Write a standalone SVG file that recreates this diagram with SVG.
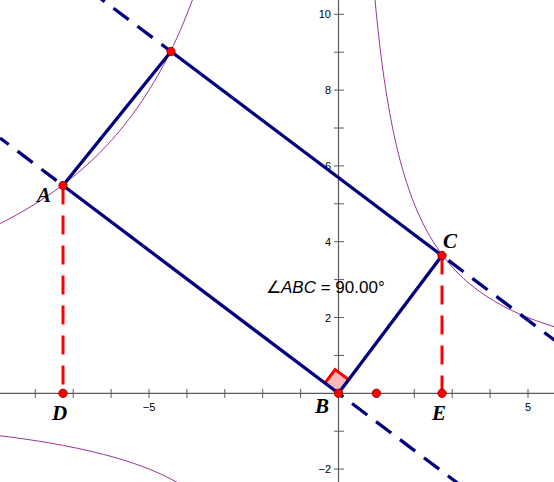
<svg xmlns="http://www.w3.org/2000/svg" width="554" height="482" viewBox="0 0 554 482">
<style>
.axis{stroke:#5a5a5a;stroke-width:1.2;fill:none}
.tick{stroke:#5a5a5a;stroke-width:1;fill:none}
.num{font-family:"Liberation Sans",Arial,sans-serif;font-size:11px;fill:#000}
.curve{stroke:#993399;stroke-width:1;fill:none}
.side{stroke:#000080;stroke-width:3.3;fill:none;stroke-linecap:round}
.dash{stroke:#000080;stroke-width:3.3;fill:none;stroke-dasharray:19 11}
.red{stroke:#ff0000;stroke-width:3;fill:none;stroke-dasharray:19 11}
.pt{fill:#ff0000;stroke:#800000;stroke-width:0.8}
.lbl{font-family:"Liberation Serif","Times New Roman",serif;font-size:21px;font-style:italic;font-weight:bold;fill:#000}
.meas{font-family:"Liberation Sans",Arial,sans-serif;font-size:17px;fill:#000}
</style>
<rect width="554" height="482" fill="#ffffff"/>
<g id="axes">
<path class="axis" d="M0,393.3H554M338.5,0V482"/>
<path class="tick" d="M35.3,389V398M73.2,389V398M111.1,389V398M149,389V398M186.9,389V398M224.8,389V398M262.7,389V398M300.6,389V398M376.4,389V398M414.3,389V398M452.2,389V398M490.1,389V398M528,389V398M334,469.1H344M334,431.2H344M334,355.4H344M334,317.5H344M334,279.6H344M334,241.7H344M334,203.8H344M334,165.9H344M334,128H344M334,90.1H344M334,52.2H344M334,14.3H344"/>
<g class="num" text-anchor="end">
<text x="331" y="18.3">10</text>
<text x="331" y="94.1">8</text>
<text x="331" y="169.9">6</text>
<text x="331" y="245.7">4</text>
<text x="331" y="321.5">2</text>
<text x="331" y="473.1">−2</text>
</g>
<g class="num" text-anchor="middle">
<text x="149" y="411">−5</text>
<text x="528" y="411">5</text>
</g>
</g>
<g id="curves" transform="matrix(37.9 0 0 -37.9 338.5 393.3)">
<path class="curve" vector-effect="non-scaling-stroke" d="M0.96,10.4167C1.09,9.0061 1.22,8.1207 1.35,7.4074C1.53333,6.4014 1.71667,5.771 1.9,5.2632C2.16667,4.5245 2.43333,4.0695 2.7,3.7037C3.1,3.155 3.5,2.8271 3.9,2.5641C4.5,2.1696 5.1,1.9391 5.7,1.7544"/>
<path class="curve" vector-effect="non-scaling-stroke" d="M-4.2,-2.38095C-4.86667,-2.00302 -5.53333,-1.78633 -6.2,-1.6129C-7.13333,-1.37009 -8.06667,-1.22634 -9,-1.11111"/>
<path class="curve" vector-effect="non-scaling-stroke" d="M-3.85,10.3896C-4.3,9.17523 -4.75,8.35799 -5.2,7.69231C-5.8,6.80474 -6.4,6.20409 -7,5.71429C-7.66667,5.17007 -8.33333,4.77366 -9,4.44444"/>
</g>
<g id="right-angle">
<path d="M338.5,393.3L324.9,383.1L335.1,369.5L348.7,379.7Z" fill="#f9b9b9"/>
<path d="M324.9,383.1L335.1,369.5L348.7,379.7" stroke="#ff0000" stroke-width="3" fill="none"/>
</g>
<g id="connectors">
<path class="dash" stroke-dashoffset="22" d="M63,185.5L0,137.98"/>
<path class="dash" stroke-dashoffset="13" d="M338.5,393.3L460,484.9"/>
<path class="dash" stroke-dashoffset="7" d="M171,51.5L100,-1.95"/>
<path class="dash" stroke-dashoffset="22" d="M442,255.5L560,344.3"/>
<path class="side" d="M63,185.5L338.5,393.3L442,255.5L171,51.5Z"/>
<path class="red" d="M63,185.5V393.3"/>
<path class="red" d="M442,255.5V393.3"/>
</g>
<g id="node-A"><circle class="pt" cx="63" cy="185.5" r="4.2"/><text class="lbl" x="37" y="202">A</text></g>
<g id="node-top"><circle class="pt" cx="171" cy="51.5" r="4.2"/></g>
<g id="node-C"><circle class="pt" cx="442" cy="255.5" r="4.2"/><text class="lbl" x="443" y="248">C</text></g>
<g id="node-B"><circle class="pt" cx="338.5" cy="393.3" r="4.2"/><text class="lbl" x="315" y="413">B</text></g>
<g id="node-unit"><circle class="pt" cx="376.4" cy="393.3" r="4.2"/></g>
<g id="node-D"><circle class="pt" cx="63" cy="393.3" r="4.2"/><text class="lbl" x="52" y="420">D</text></g>
<g id="node-E"><circle class="pt" cx="442" cy="393.3" r="4.2"/><text class="lbl" x="432" y="420">E</text></g>
<g id="measure"><text class="meas" x="266" y="293">∠<tspan font-style="italic">ABC</tspan> = 90.00°</text></g>
</svg>
